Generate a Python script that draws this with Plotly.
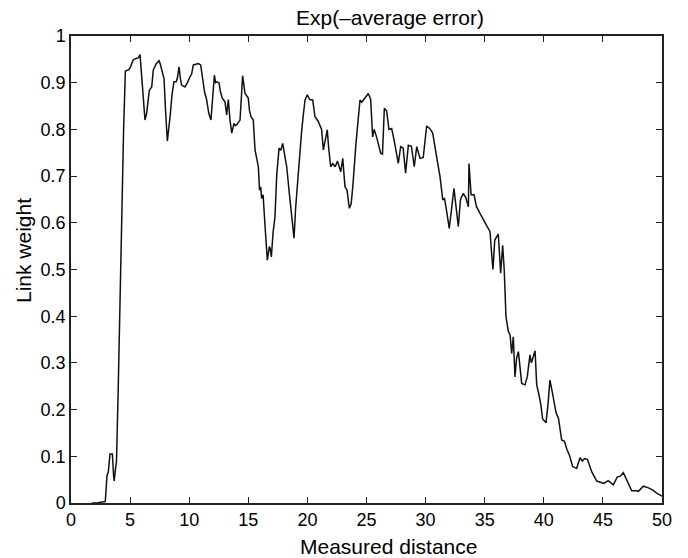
import plotly.graph_objects as go

distance = [1.75, 2.2, 2.6, 2.9, 3.05, 3.15, 3.3, 3.5, 3.6, 3.65, 3.75, 3.85, 4.0, 4.15, 4.3, 4.45, 4.6,
            4.9, 5.05, 5.27, 5.5, 5.7, 5.84, 5.98, 6.1, 6.26, 6.4, 6.63, 6.83, 6.96, 7.2, 7.45, 7.55,
            7.67, 7.87, 8.0, 8.15, 8.38, 8.55, 8.71, 8.9, 9.0, 9.14, 9.25, 9.36, 9.64, 9.85, 10.07,
            10.2, 10.35, 10.6, 10.77, 10.97, 11.19, 11.3, 11.48, 11.65, 11.84, 11.95, 12.13, 12.23,
            12.33, 12.52, 12.65, 12.8, 13.03, 13.17, 13.31, 13.45, 13.6, 13.79, 13.9, 14.02, 14.15,
            14.3, 14.52, 14.65, 14.72, 15.0, 15.1, 15.23, 15.42, 15.57, 15.76, 15.85, 15.95, 16.05,
            16.13, 16.25, 16.45, 16.61, 16.78, 16.85, 16.95, 17.1, 17.26, 17.4, 17.6, 17.75, 17.91,
            18.05, 18.25, 18.47, 18.67, 18.87, 19.0, 19.15, 19.3, 19.52, 19.65, 19.8, 19.99, 20.2,
            20.45, 20.64, 20.92, 21.07, 21.2, 21.35, 21.5, 21.68, 21.8, 21.97, 22.15, 22.35, 22.55,
            22.82, 22.99, 23.18, 23.35, 23.55, 23.7, 23.85, 24.11, 24.3, 24.45, 24.6, 24.8, 25.15,
            25.35, 25.52, 25.65, 25.85, 26.2, 26.35, 26.51, 26.7, 26.9, 27.13, 27.35, 27.69, 27.89,
            28.1, 28.31, 28.54, 28.8, 29.04, 29.25, 29.53, 29.8, 30.09, 30.35, 30.6, 30.88, 31.22,
            31.45, 31.6, 31.75, 32.0, 32.2, 32.4, 32.55, 32.77, 32.95, 33.19, 33.4, 33.62, 33.67,
            33.85, 34.1, 34.3, 34.6, 34.88, 35.05, 35.25, 35.45, 35.6, 35.7, 35.85, 36.0, 36.15,
            36.35, 36.52, 36.65, 36.8, 37.0, 37.15, 37.28, 37.42, 37.56, 37.7, 37.85, 38.13, 38.41,
            38.6, 38.83, 38.95, 39.26, 39.4, 39.62, 39.75, 39.9, 40.19, 40.35, 40.52, 40.7, 41.03,
            41.25, 41.51, 41.75, 41.95, 42.16, 42.44, 42.78, 43.06, 43.25, 43.45, 43.7, 44.05, 44.48,
            44.8, 45.09, 45.45, 45.88, 46.22, 46.45, 46.73, 47.0, 47.44, 47.8, 48.0, 48.42, 48.8,
            49.2, 49.55, 50.0]

link_weight = [0, 0, 0.002, 0.003, 0.06, 0.065, 0.105, 0.105, 0.06, 0.047, 0.07, 0.09, 0.25, 0.45, 0.65, 0.8, 0.925,
               0.928, 0.935, 0.949, 0.952, 0.953, 0.96, 0.913, 0.87, 0.82, 0.835, 0.884, 0.891, 0.927, 0.94, 0.947, 0.94,
               0.927, 0.909, 0.84, 0.775, 0.827, 0.875, 0.902, 0.902, 0.91, 0.934, 0.91, 0.895, 0.891, 0.9, 0.913,
               0.918, 0.938, 0.94, 0.941, 0.938, 0.891, 0.88, 0.863, 0.835, 0.82, 0.85, 0.916, 0.9,
               0.902, 0.9, 0.88, 0.867, 0.859, 0.831, 0.864, 0.82, 0.792, 0.813, 0.808, 0.81, 0.815,
               0.82, 0.915, 0.885, 0.877, 0.867, 0.84, 0.827, 0.82, 0.756, 0.727, 0.72, 0.67, 0.677,
               0.652, 0.66, 0.58, 0.52, 0.549, 0.545, 0.527, 0.58, 0.613, 0.7, 0.76, 0.755, 0.77,
               0.75, 0.72, 0.663, 0.606, 0.567, 0.63, 0.685, 0.72, 0.799, 0.83, 0.863, 0.874, 0.864,
               0.863, 0.827, 0.817, 0.806, 0.8, 0.756, 0.78, 0.799, 0.76, 0.72, 0.727, 0.72, 0.732,
               0.709, 0.738, 0.677, 0.67, 0.631, 0.64, 0.68, 0.77, 0.82, 0.863, 0.858, 0.865, 0.877,
               0.865, 0.784, 0.8, 0.784, 0.749, 0.747, 0.845, 0.84, 0.8, 0.802, 0.775, 0.727, 0.763,
               0.76, 0.706, 0.766, 0.764, 0.72, 0.763, 0.738, 0.74, 0.807, 0.802, 0.792, 0.749, 0.699,
               0.649, 0.652, 0.63, 0.588, 0.63, 0.674, 0.64, 0.592, 0.65, 0.663, 0.654, 0.634, 0.727,
               0.66, 0.66, 0.635, 0.62, 0.606, 0.599, 0.59, 0.581, 0.53, 0.5, 0.563, 0.57, 0.576,
               0.492, 0.552, 0.5, 0.399, 0.367, 0.36, 0.32, 0.356, 0.27, 0.31, 0.324, 0.256, 0.253,
               0.27, 0.317, 0.3, 0.326, 0.253, 0.228, 0.21, 0.18, 0.172, 0.21, 0.263, 0.24, 0.194,
               0.18, 0.135, 0.132, 0.115, 0.103, 0.078, 0.074, 0.097, 0.09, 0.095, 0.093, 0.067, 0.047,
               0.045, 0.042, 0.048, 0.039, 0.056, 0.057, 0.065, 0.05, 0.026, 0.026, 0.025, 0.036, 0.033,
               0.028, 0.021, 0.015]

x_ticks = [0, 5, 10, 15, 20, 25, 30, 35, 40, 45, 50]
y_ticks = [0, 0.1, 0.2, 0.3, 0.4, 0.5, 0.6, 0.7, 0.8, 0.9, 1]
y_tick_text = ["0", "0.1", "0.2", "0.3", "0.4", "0.5", "0.6", "0.7", "0.8", "0.9", "1"]

title_text = "Exp(\u2013average error)"
x_label = "Measured distance"
y_label = "Link weight"

FONT = "Liberation Sans, Arial, Helvetica, sans-serif"

fig = go.Figure()
fig.add_trace(go.Scatter(x=distance, y=link_weight, mode="lines",
                         line=dict(color="#111111", width=1.5), showlegend=False,
                         hoverinfo="skip"))

axis_common = dict(showline=True, linecolor="#222222", linewidth=1.5, mirror="ticks",
                   ticks="inside", ticklen=6, tickcolor="#222222", tickwidth=1.3,
                   showgrid=False, zeroline=False,
                   tickfont=dict(family=FONT, size=18, color="black"))

fig.update_layout(
    width=688, height=558,
    margin=dict(l=71, r=26, t=36, b=55),
    paper_bgcolor="white", plot_bgcolor="white",
    xaxis=dict(range=[0, 50], tickvals=x_ticks, ticktext=[str(v) for v in x_ticks], **axis_common),
    yaxis=dict(range=[0, 1], tickvals=y_ticks, ticktext=y_tick_text, **axis_common),
    annotations=[
        dict(text=title_text, xref="paper", yref="paper", x=(390 - 71) / 591, y=1 + 18 / 467,
             xanchor="center", yanchor="middle", showarrow=False,
             font=dict(family=FONT, size=21, color="black")),
        dict(text=x_label, xref="paper", yref="paper", x=(389 - 71) / 591, y=-43 / 467,
             xanchor="center", yanchor="middle", showarrow=False,
             font=dict(family=FONT, size=21, color="black")),
        dict(text=y_label, xref="paper", yref="paper", x=-(71 - 23) / 591, y=(503 - 251) / 467,
             xanchor="center", yanchor="middle", showarrow=False, textangle=-90,
             font=dict(family=FONT, size=21, color="black")),
    ],
)

fig.write_html("out.html")
